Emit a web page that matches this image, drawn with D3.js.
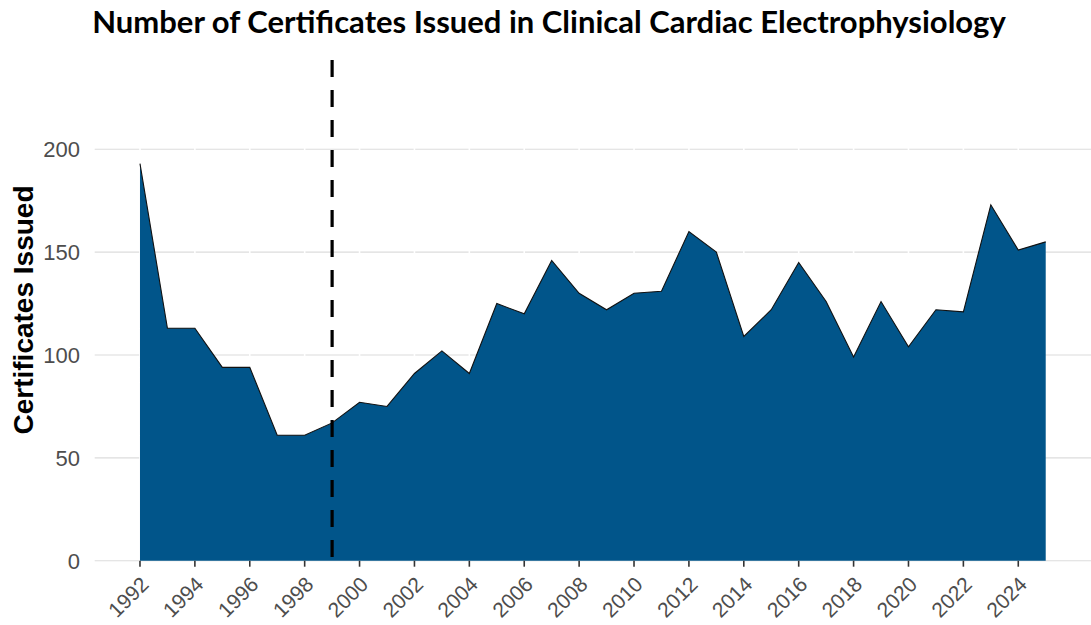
<!DOCTYPE html>
<html>
<head>
<meta charset="utf-8">
<script src="https://cdn.jsdelivr.net/npm/d3@7"></script>
<style>
  body { margin: 0; background: #fff; }
  svg { display: block; }
</style>
</head>
<body>
<div id="chart"></div>
<script>
// data
var years = [1992, 1993, 1994, 1995, 1996, 1997, 1998, 1999, 2000, 2001, 2002,
    2003, 2004, 2005, 2006, 2007, 2008, 2009, 2010, 2011, 2012, 2013, 2014,
    2015, 2016, 2017, 2018, 2019, 2020, 2021, 2022, 2023, 2024, 2025];
var certificates = [193, 113, 113, 94, 94, 61, 61, 67, 77, 75, 91,
    102, 91, 125, 120, 146, 130, 122, 130, 131, 160, 150, 109,
    122, 145, 126, 99, 126, 104, 122, 121, 173, 151, 155];
var xTicks = d3.range(1992, 2025, 2);
var yTicks = [0, 50, 100, 150, 200];
var markerYear = 1999;
var titleText = "Number of Certificates Issued in Clinical Cardiac Electrophysiology";
var yLabel = "Certificates Issued";

var width = 1091, height = 625;
var panelLeft = 94.7, panelRight = 1091, panelTop = 60, panelBottom = 560.7;

var svg = d3.select("#chart").append("svg")
    .attr("width", width)
    .attr("height", height);

var x = d3.scaleLinear()
    .domain([1990.35, 2026.65])
    .range([panelLeft, panelRight]);
var y = d3.scaleLinear()
    .domain([0, 200])
    .range([panelBottom, 149.3]);

var data = years.map((d, i) => ({ year: d, value: certificates[i] }));

// horizontal grid
svg.append("g")
    .selectAll("line")
    .data(yTicks)
    .join("line")
    .attr("x1", panelLeft).attr("x2", panelRight)
    .attr("y1", d => y(d)).attr("y2", d => y(d))
    .attr("stroke", "#dcdcdc")
    .attr("stroke-width", 1.1);

// white vertical grid (shows as gaps in the grey lines)
svg.append("g")
    .selectAll("line")
    .data(xTicks)
    .join("line")
    .attr("x1", d => x(d)).attr("x2", d => x(d))
    .attr("y1", panelTop).attr("y2", panelBottom)
    .attr("stroke", "#fff")
    .attr("stroke-width", 1.6);

// area
var area = d3.area()
    .x(d => x(d.year))
    .y0(y(0))
    .y1(d => y(d.value));
svg.append("path")
    .datum(data)
    .attr("d", area)
    .attr("fill", "#01558a");

var line = d3.line()
    .x(d => x(d.year))
    .y(d => y(d.value));
svg.append("path")
    .datum(data)
    .attr("d", line)
    .attr("fill", "none")
    .attr("stroke", "#111")
    .attr("stroke-width", 1.1);

// dashed marker
svg.append("line")
    .attr("x1", x(markerYear)).attr("x2", x(markerYear))
    .attr("y1", panelTop).attr("y2", panelBottom)
    .attr("stroke", "#000")
    .attr("stroke-width", 3.2)
    .attr("stroke-dasharray", "17,13");

// x axis ticks
var xAxis = svg.append("g");
xAxis.selectAll("line")
    .data(xTicks)
    .join("line")
    .attr("x1", d => x(d)).attr("x2", d => x(d))
    .attr("y1", panelBottom).attr("y2", panelBottom + 6)
    .attr("stroke", "#333")
    .attr("stroke-width", 1.6);
xAxis.selectAll("text")
    .data(xTicks)
    .join("text")
    .attr("transform", d => "translate(" + (x(d) + 10) + "," + (panelBottom + 25) + ") rotate(-45)")
    .attr("text-anchor", "end")
    .attr("font-family", "'Liberation Sans', Arial, sans-serif")
    .attr("font-size", "21px")
    .attr("fill", "#4d4d4d")
    .text(d => d);

// y axis labels
svg.append("g")
    .selectAll("text")
    .data(yTicks)
    .join("text")
    .attr("x", 80)
    .attr("y", d => y(d))
    .attr("dy", "0.36em")
    .attr("text-anchor", "end")
    .attr("font-family", "'Liberation Sans', Arial, sans-serif")
    .attr("font-size", "22px")
    .attr("fill", "#4d4d4d")
    .text(d => d);

svg.append("text")
    .attr("transform", "translate(33,310) rotate(-90)")
    .attr("text-anchor", "middle")
    .attr("font-family", "'Liberation Sans', Arial, sans-serif")
    .attr("font-weight", "bold")
    .attr("font-size", "28px")
    .attr("fill", "#000")
    .text(yLabel);

// title, squeezed to the reference width
var title = svg.append("text")
    .attr("x", 549)
    .attr("y", 33)
    .attr("text-anchor", "middle")
    .attr("font-family", "Lato, 'Open Sans', sans-serif")
    .attr("font-weight", "bold")
    .attr("font-size", "31px")
    .attr("fill", "#000")
    .text(titleText);
var tw = title.node().getComputedTextLength();
if (Math.abs(tw - 910) > 4) {
    title.attr("textLength", 910).attr("lengthAdjust", "spacingAndGlyphs");
}
</script>
</body>
</html>
